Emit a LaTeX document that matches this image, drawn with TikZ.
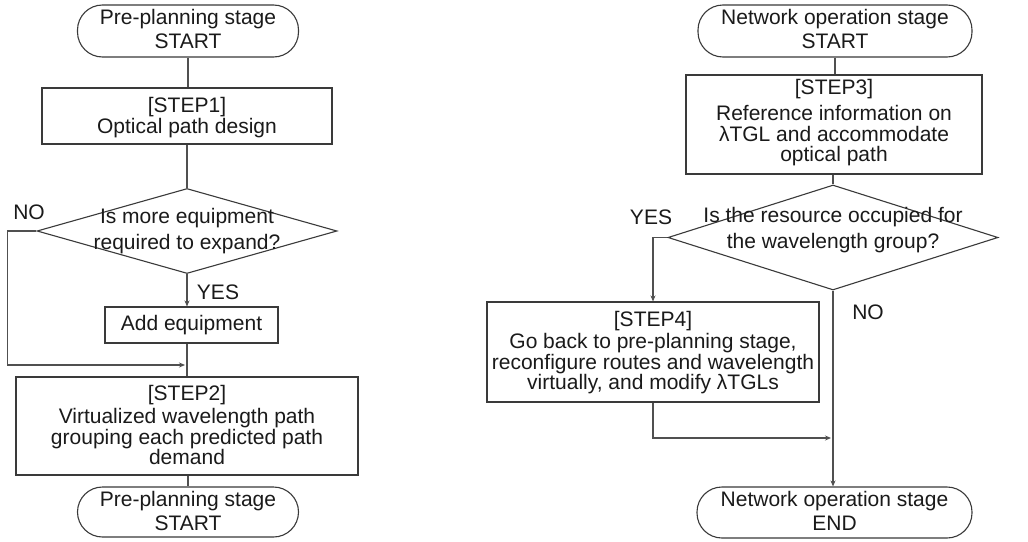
\documentclass[tikz,border=0pt]{standalone}
\usepackage{fontspec}
\setmainfont{Liberation Sans}
\usetikzlibrary{shapes.geometric,arrows.meta}
\definecolor{boxc}{HTML}{3A3A3A}
\definecolor{linec}{HTML}{505050}
\definecolor{txtc}{HTML}{1A1A1A}
\begin{document}
\begin{tikzpicture}[x=1pt,y=-1pt,
 box/.style={draw=boxc, line width=1.1pt, inner sep=0pt, rectangle},
 term/.style={draw=boxc, line width=1.1pt, rounded corners=25pt, inner sep=0pt, rectangle},
 dia/.style={diamond, draw=boxc, line width=1.1pt, inner sep=0pt},
 txt/.style={font=\fontsize{21}{20.5}\selectfont, align=center, text=txtc, inner sep=0pt},
 ttxt/.style={font=\fontsize{21}{24}\selectfont, align=center, text=txtc, inner sep=0pt},
 dtxt/.style={font=\fontsize{21}{26}\selectfont, align=center, text=txtc, inner sep=0pt},
 conn/.style={draw=linec, line width=1.1pt},
 arr/.style={conn, -{Stealth[length=6pt,width=5pt]}}]
\useasboundingbox (0,0) rectangle (1028,541);
\fill[white] (0,0) rectangle (1028,541);

% ---------- left chart ----------
\node[term, minimum width=221pt, minimum height=52pt] (s1) at (188,31) {};
\node[ttxt] (s1t) at (188,28.5) {Pre-planning stage\\START};
\node[box, minimum width=290pt, minimum height=56pt] (st1) at (187,116) {};
\node[txt] (st1t) at (187,117.5) {[STEP1]\\Optical path design};
\node[dia, minimum width=300pt, minimum height=85pt] (d1) at (187,231) {};
\node[dtxt] (d1t) at (187,231) {Is more equipment\\required to expand?};
\node[box, minimum width=173pt, minimum height=36pt] (add) at (191.5,325) {};
\node[txt] (addt) at (191.5,325) {Add equipment};
\node[box, minimum width=342pt, minimum height=98pt] (st2) at (187,426) {};
\node[txt] (st2t) at (187,425) {[STEP2]\\[3pt]Virtualized wavelength path\\grouping each predicted path\\demand};
\node[term, minimum width=221pt, minimum height=50pt] (e1) at (188,512) {};
\node[ttxt] (e1t) at (188,510.5) {Pre-planning stage\\START};

\node[txt] (no1) at (29,212) {NO};
\node[txt] (yes1) at (218,292) {YES};
\coordinate (j1) at (185,365);

\draw[conn] (s1.south) -- (s1.south |- st1.north);
\draw[conn] (st1.south) -- (d1.north);
\draw[arr] (d1.south) -- (d1.south |- add.north);
\draw[conn] (d1.south |- add.south) -- (d1.south |- st2.north);
\draw[arr] (d1.west) -- ++(-29,0) |- (j1);
\draw[conn] (st2.south -| s1.south) -- (e1.north);

% ---------- right chart ----------
\node[term, minimum width=274pt, minimum height=52pt] (s2) at (835,31) {};
\node[ttxt] (s2t) at (835,28.5) {Network operation stage\\START};
\node[box, minimum width=296pt, minimum height=99pt] (st3) at (834,124.5) {};
\node[txt] (st3t) at (834,122.5) {[STEP3]\\[6pt]Reference information on\\λTGL and accommodate\\optical path};
\node[dia, minimum width=330pt, minimum height=105pt] (d2) at (833,237.5) {};
\node[dtxt] (d2t) at (833,230) {Is the resource occupied for\\the wavelength group?};
\node[box, minimum width=332pt, minimum height=100pt] (st4) at (653,352) {};
\node[txt] (st4t) at (653,352.5) {[STEP4]\\[2pt]Go back to pre-planning stage,\\reconfigure routes and wavelength\\virtually, and modify λTGLs};
\node[term, minimum width=275pt, minimum height=51pt] (e2) at (834.5,512.5) {};
\node[ttxt] (e2t) at (834.5,510.5) {Network operation stage\\END};

\node[txt] (yes2) at (651,217) {YES};
\node[txt] (no2) at (868,312) {NO};
\coordinate (j2) at (831,438);

\draw[conn] (s2.south) -- (s2.south |- st3.north);
\draw[conn] (st3.south -| d2.north) -- (d2.north);
\draw[arr] (d2.west) -| (st4.north);
\draw[arr] (d2.south) -- (d2.south |- e2.north);
\draw[arr] (st4.south) |- (j2);
\end{tikzpicture}
\end{document}
